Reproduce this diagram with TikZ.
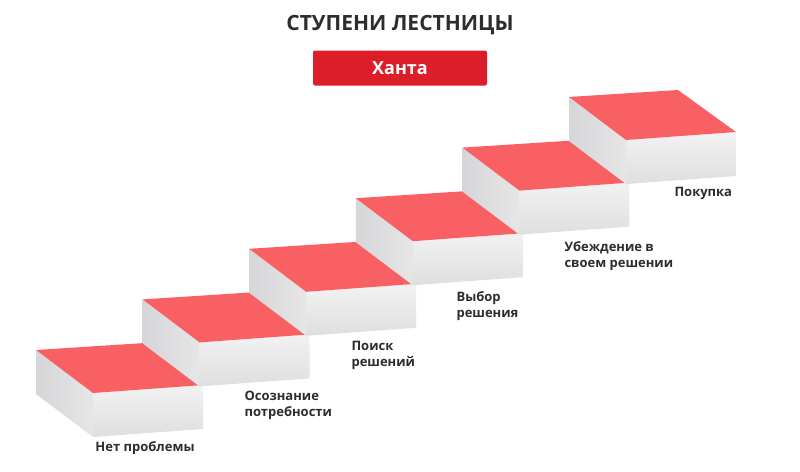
\documentclass[tikz,border=0pt]{standalone}
\usepackage{fontspec}
\setmainfont{Open Sans}
\usetikzlibrary{calc}
\definecolor{krs}{RGB}{248,96,100}
\definecolor{krd}{RGB}{220,30,40}
\definecolor{sei}{RGB}{214,214,217}
\definecolor{wei}{RGB}{242,242,243}
\definecolor{txt}{RGB}{45,45,45}
\begin{document}
\begin{tikzpicture}[x=1pt,y=-1pt,line join=round]
	\tikzstyle{oben}=[fill=krs];
	\tikzstyle{links}=[left color=sei,right color=wei!95!black];
	\tikzstyle{vorn}=[top color=wei,bottom color=wei!92!black];
	\tikzstyle{schild}=[font=\fontsize{13}{16}\selectfont\bfseries,text=txt,align=left,anchor=north west];
%<--------------------------------------------------------------------------->%
	\useasboundingbox[fill=white] (0,0) rectangle (800,471);
	%% Steps
	\foreach \n in {0,...,5}{
		\coordinate (B\n) at (36+106.6*\n,350-50.6*\n);
		\path[links] (B\n) -- ++(57,43) -- ++(0,44) -- ++(-57,-43) --cycle;
		\path[vorn] ($(B\n)+(57,43)$) -- ++(110,-8) -- ++(0,44) -- ++(-110,8) --cycle;
		\path[oben] (B\n) -- ++(109,-7) -- ++(58,42) -- ++(-110,8) --cycle;
	}
	%% Title
	\node[font=\fontsize{21}{24}\selectfont\bfseries,text=txt] (titel) at (400,25) {СТУПЕНИ ЛЕСТНИЦЫ};
	\node[fill=krd,rounded corners=2pt,minimum width=174pt,minimum height=35pt,
		font=\fontsize{18}{20}\selectfont\bfseries,text=white] (hanta) at (400,68) {Ханта};
	%% Labels
	\node[schild,anchor=center] (s1) at (145,448) {Нет проблемы};
	\node[schild] (s2) at (241,388) {Осознание\\потребности};
	\node[schild] (s3) at (348,338) {Поиск\\решений};
	\node[schild] (s4) at (453,288) {Выбор\\решения};
	\node[schild] (s5) at (561,238) {Убеждение в\\своем решении};
	\node[schild] (s6) at (671,184) {Покупка};
\end{tikzpicture}
\end{document}
